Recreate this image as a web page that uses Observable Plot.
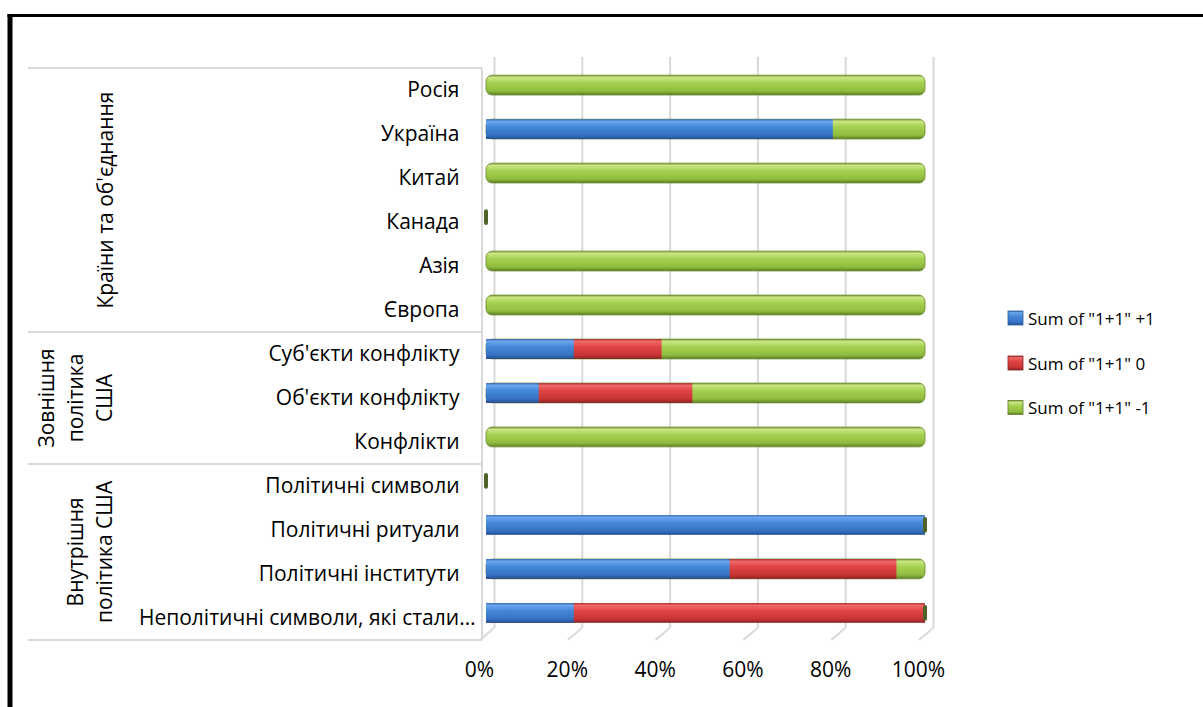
<!DOCTYPE html>
<html><head><meta charset="utf-8">
<script src="https://cdn.jsdelivr.net/npm/d3@7"></script>
<script src="https://cdn.jsdelivr.net/npm/@observablehq/plot@0.6"></script>
<style>
html,body{margin:0;padding:0;background:#fff;}
svg{font-family:"Open Sans",sans-serif;}
</style></head><body><div id="chart"></div>
<script>
// ---- data ----
const categories = ["Росія","Україна","Китай","Канада","Азія","Європа","Суб'єкти конфлікту","Об'єкти конфлікту","Конфлікти","Політичні символи","Політичні ритуали","Політичні інститути","Неполітичні символи, які стали…"];
const groupOf = [0,0,0,0,0,0,1,1,1,2,2,2,2];
const groupLines = [["Країни та об'єднання"],["Зовнішня","політика","США"],["Внутрішня","політика США"]];
const seriesNames = ['Sum of "1+1" +1','Sum of "1+1" 0','Sum of "1+1" -1'];
const plusOne  = [0,0.79,0,0,0,0,0.20,0.12,0,0,1,0.555,0.20];
const zeroVals = [0,0,0,0,0,0,0.20,0.35,0,0,0,0.38,0.80];
const minusOne = [1,0.21,1,0,1,1,0.60,0.53,1,0,0,0.065,0];
const xTicks = [0,0.2,0.4,0.6,0.8,1];

(function(){
// ---- derived tables ----
const rows = categories.map((c,i)=>({cat:c,b:plusOne[i],r:zeroVals[i],g:minusOne[i]}));
const greenBars = rows.filter(d=>d.g>0).map(d=>({cat:d.cat,x1:0,x2:d.b+d.r+d.g}));
const redBars = rows.filter(d=>d.r>0).map(d=>({cat:d.cat,x1:0,x2:d.b+d.r}));
const blueBars = rows.filter(d=>d.b>0).map(d=>({cat:d.cat,x1:0,x2:d.b}));
const caps = rows.filter(d=>d.g===0).map(d=>({cat:d.cat,x:d.b+d.r+d.g}));
const shortLabels = categories.filter(c=>!c.endsWith("…"));
const longLabels = categories.filter(c=>c.endsWith("…"));

const FONT = '"Open Sans", sans-serif';
const FS = 21;
const chart = Plot.plot({
  width: 1203, height: 707,
  marginLeft: 486, marginRight: 278, marginTop: 51, marginBottom: 60,
  x: {domain:[0,1], axis:null},
  y: {domain: categories, padding: 0.55, round: false, axis:null},
  style: {fontFamily: FONT, fontSize: FS+"px", color:"#000", background:"#fff"},
  marks: [
    Plot.gridX(xTicks, {dx: 8, insetTop: 6, insetBottom: 19, stroke:"#d9d9d9", strokeWidth: 2, strokeOpacity: 1}),
    Plot.barX(greenBars, {x1:"x1", x2:"x2", y:"cat", fill:"url(#gGreen)", rx: 6, stroke:"#6b8a2e", strokeWidth:0.8}),
    Plot.barX(redBars, {x1:"x1", x2:"x2", y:"cat", fill:"url(#gRed)"}),
    Plot.barX(blueBars, {x1:"x1", x2:"x2", y:"cat", fill:"url(#gBlue)"}),
    Plot.barX(caps, {x1:"x", x2:"x", y:"cat", insetLeft:-2, insetRight:-2, insetTop:2, insetBottom:2, rx:2, fill:"#4f6228"}),
    Plot.text(shortLabels, {y: d=>d, text: d=>d, frameAnchor:"left", dx:-27, dy:5, textAnchor:"end", fontSize:FS, fill:"#000"}),
    Plot.text(longLabels, {y: d=>d, text: d=>d, frameAnchor:"left", dx:-11, dy:5, textAnchor:"end", fontSize:FS, fill:"#000"}),
    Plot.text(xTicks, {x: d=>d, text: d=>d3.format(".0%")(d), frameAnchor:"bottom", dy: 23, dx:-7, textAnchor:"middle", lineAnchor:"middle", fontSize:FS, fill:"#000"})
  ]
});
document.getElementById("chart").appendChild(chart);

const svg = d3.select(chart);
const defs = svg.insert("defs", ":first-child");
function grad(id, stops){
  const g = defs.append("linearGradient").attr("id", id).attr("x1",0).attr("y1",0).attr("x2",0).attr("y2",1);
  stops.forEach(([o,c])=>g.append("stop").attr("offset",o).attr("stop-color",c));
}
grad("gBlue", [[0,"#3a6fb5"],[0.12,"#6aa6ee"],[0.4,"#4386d9"],[0.8,"#3672c2"],[1,"#23508f"]]);
grad("gRed", [[0,"#a83030"],[0.12,"#f06868"],[0.4,"#de4343"],[0.8,"#c93535"],[1,"#8a2222"]]);
grad("gGreen", [[0,"#7e9f3a"],[0.12,"#c8e684"],[0.4,"#a5cf4e"],[0.8,"#90bc3f"],[1,"#5e7d27"]]);

const xs = chart.scale("x"), ys = chart.scale("y");
const step = ys.step, bw = ys.bandwidth;
const lc = c => ys.apply(c) + bw/2 + 5;
const yTop = lc(categories[0]) - step/2;
const yBottom = lc(categories[categories.length-1]) + step/2;
const layer = svg.append("g");
xTicks.forEach(t=>{
  const x = xs.apply(t);
  layer.append("line").attr("x1", x+8).attr("y1", 628).attr("x2", x-6).attr("y2", 640)
    .attr("stroke","#d9d9d9").attr("stroke-width",2);
});
const seps = [yTop];
for (let i=1;i<categories.length;i++) if (groupOf[i]!==groupOf[i-1]) seps.push(lc(categories[i]) - step/2);
seps.push(yBottom);
seps.forEach(y=>layer.append("line").attr("x1",28).attr("x2",482).attr("y1",y).attr("y2",y).attr("stroke","#d9d9d9").attr("stroke-width",2));
layer.append("line").attr("x1",482).attr("x2",482).attr("y1",yTop).attr("y2",yBottom).attr("stroke","#d9d9d9").attr("stroke-width",2);
const lineX = [[105],[46,75,104],[75,104]];
groupLines.forEach((lines,gi)=>{
  const idx = groupOf.map((g,i)=>g===gi?i:-1).filter(i=>i>=0);
  const yc = (lc(categories[idx[0]]) + lc(categories[idx[idx.length-1]]))/2;
  lines.forEach((t,li)=>{
    const x = lineX[gi][li];
    layer.append("text").attr("transform",`translate(${x},${yc}) rotate(-90)`)
      .attr("text-anchor","middle").attr("dominant-baseline","central")
      .attr("font-size",FS).attr("fill","#000").text(t);
  });
});
const legY = [318,363,407.5];
const legGrad = ["url(#gBlue)","url(#gRed)","url(#gGreen)"];
const legStroke = ["#2a5a9a","#8a2222","#5e7d27"];
seriesNames.forEach((s,i)=>{
  layer.append("rect").attr("x",1008).attr("y",legY[i]-7).attr("width",15).attr("height",14)
    .attr("fill",legGrad[i]).attr("stroke",legStroke[i]).attr("stroke-width",0.8);
  layer.append("text").attr("x",1028).attr("y",legY[i]).attr("dominant-baseline","central")
    .attr("text-anchor","start").attr("font-size",17).attr("fill","#000").text(s);
});
layer.append("line").attr("x1",10).attr("x2",10).attr("y1",14).attr("y2",707).attr("stroke","#000").attr("stroke-width",5);
layer.append("line").attr("x1",7.5).attr("x2",1203).attr("y1",15.5).attr("y2",15.5).attr("stroke","#000").attr("stroke-width",3);
})();
</script></body></html>
